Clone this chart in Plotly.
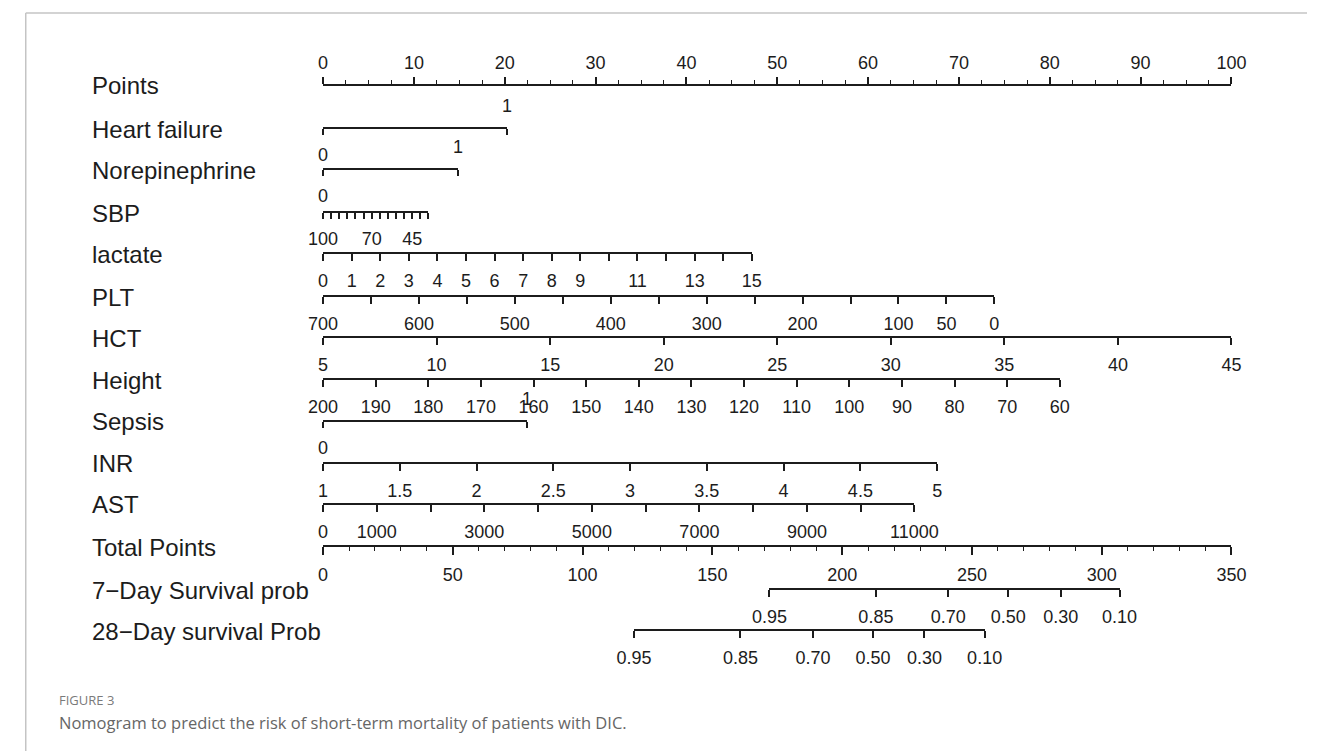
import plotly.graph_objects as go

# ---------------- data ----------------
row_labels = ["Points", "Heart failure", "Norepinephrine", "SBP", "lactate", "PLT", "HCT",
              "Height", "Sepsis", "INR", "AST", "Total Points",
              "7\u2212Day Survival prob", "28\u2212Day survival Prob"]

points_ticks = list(range(0, 101, 10))

heart_failure_values = [0, 1]
heart_failure_points = [0, 20.3]

norepinephrine_values = [0, 1]
norepinephrine_points = [0, 14.9]

sbp_range = [100, 35]
sbp_points = [0, 11.6]
sbp_ticks = list(range(100, 34, -5))
sbp_labels = ["100", "", "", "", "", "", "70", "", "", "", "", "45", "", ""]

lactate_range = [0, 15]
lactate_points = [0, 47.2]
lactate_ticks = list(range(0, 16))
lactate_labels = ["0", "1", "2", "3", "4", "5", "6", "7", "8", "9", "", "11", "", "13", "", "15"]

plt_range = [700, 0]
plt_points = [0, 73.9]
plt_ticks = list(range(700, -1, -50))
plt_labels = ["700", "", "600", "", "500", "", "400", "", "300", "", "200", "", "100", "50", "0"]

hct_range = [5, 45]
hct_points = [0, 100]
hct_ticks = list(range(5, 46, 5))

height_range = [200, 60]
height_points = [0, 81.1]
height_ticks = list(range(200, 59, -10))

sepsis_values = [0, 1]
sepsis_points = [0, 22.5]

inr_range = [1, 5]
inr_points = [0, 67.6]
inr_ticks = [1, 1.5, 2, 2.5, 3, 3.5, 4, 4.5, 5]
inr_labels = ["1", "1.5", "2", "2.5", "3", "3.5", "4", "4.5", "5"]

ast_range = [0, 11000]
ast_points = [0, 65.1]
ast_ticks = list(range(0, 11001, 1000))
ast_labels = ["0", "1000", "", "3000", "", "5000", "", "7000", "", "9000", "", "11000"]

total_range = [0, 350]
total_ticks = list(range(0, 351, 50))

surv7_total_points = [172.0, 213.0, 240.9, 264.0, 284.2, 306.9]
surv7_labels = ["0.95", "0.85", "0.70", "0.50", "0.30", "0.10"]

surv28_total_points = [119.8, 160.8, 188.8, 211.9, 231.7, 254.9]
surv28_labels = ["0.95", "0.85", "0.70", "0.50", "0.30", "0.10"]

# ---------------- layout constants ----------------
W, H = 1331, 751
PX0, PX1 = 315, 1253          # pixel of 0 and 100 points
row_y = [85, 128, 169, 212, 253, 296, 337, 379, 421, 463, 504, 546, 589, 630]
INK = "#1c1c1c"
FONT = "Liberation Sans, Arial, Helvetica, sans-serif"
TICKFONT = dict(family=FONT, size=18, color=INK)
LABEL_X = 74


def dom(p0, p1, scale=100.0):
    a = (PX0 + p0 * (PX1 - PX0) / scale) / W
    b = (PX0 + p1 * (PX1 - PX0) / scale) / W
    return [a, b]


def ypos(py):
    return 1 - py / H


fig = go.Figure()
layout_axes = {}
counter = [0]


def add_axis(rng, domain, ypx, tickvals, ticktext, side="bottom", ticks="outside",
             ticklen=7, minor=None, lw=1.8, standoff=4):
    counter[0] += 1
    k = counter[0]
    name = "xaxis" if k == 1 else f"xaxis{k}"
    ref = "x" if k == 1 else f"x{k}"
    ax = dict(domain=domain, range=rng, anchor="free", position=ypos(ypx), side=side,
              ticks=ticks, ticklen=ticklen, tickwidth=1.5, tickcolor=INK,
              showline=True, linecolor=INK, linewidth=lw,
              tickmode="array", tickvals=tickvals, ticktext=ticktext,
              showticklabels=True, tickfont=TICKFONT,
              showgrid=False, zeroline=False, fixedrange=True,
              ticklabelstandoff=standoff)
    if minor is not None:
        ax["minor"] = minor
    layout_axes[name] = ax
    fig.add_trace(go.Scatter(x=[rng[0]], y=[-10], xaxis=ref, yaxis="y", mode="markers",
                             marker=dict(opacity=0), hoverinfo="skip", showlegend=False))
    return ref


# Points (ticks point up towards the labels)
add_axis([0, 100], dom(0, 100), row_y[0], points_ticks, [str(v) for v in points_ticks],
         side="top", ticks="outside", ticklen=7, lw=2.2, standoff=1,
         minor=dict(dtick=2.5, tick0=0, ticks="outside", ticklen=4, tickwidth=1.3, tickcolor=INK))

# binary rows
binary = [(heart_failure_values, heart_failure_points, row_y[1]),
          (norepinephrine_values, norepinephrine_points, row_y[2]),
          (sepsis_values, sepsis_points, row_y[8])]
binary_refs = []
for vals, pts, yy in binary:
    ref = add_axis([vals[0], vals[1]], dom(*pts), yy, vals, [str(vals[0]), ""], ticklen=6)
    binary_refs.append((ref, vals[1], yy))

# SBP
add_axis(sbp_range, dom(*sbp_points), row_y[3], sbp_ticks, sbp_labels, ticklen=6)
# lactate
add_axis(lactate_range, dom(*lactate_points), row_y[4], lactate_ticks, lactate_labels)
# PLT
add_axis(plt_range, dom(*plt_points), row_y[5], plt_ticks, plt_labels)
# HCT
add_axis(hct_range, dom(*hct_points), row_y[6], hct_ticks, [str(v) for v in hct_ticks])
# Height
add_axis(height_range, dom(*height_points), row_y[7], height_ticks, [str(v) for v in height_ticks])
# INR
add_axis(inr_range, dom(*inr_points), row_y[9], inr_ticks, inr_labels)
# AST
add_axis(ast_range, dom(*ast_points), row_y[10], ast_ticks, ast_labels)
# Total points
add_axis(total_range, dom(0, 100), row_y[11], total_ticks, [str(v) for v in total_ticks],
         ticklen=8, lw=2.2,
         minor=dict(dtick=10, tick0=0, ticks="outside", ticklen=4, tickwidth=1.3, tickcolor=INK))
# survival rows
add_axis([surv7_total_points[0], surv7_total_points[-1]],
         dom(surv7_total_points[0], surv7_total_points[-1], 350.0), row_y[12],
         surv7_total_points, surv7_labels)
add_axis([surv28_total_points[0], surv28_total_points[-1]],
         dom(surv28_total_points[0], surv28_total_points[-1], 350.0), row_y[13],
         surv28_total_points, surv28_labels)

annotations = []
# "1" labels above the binary lines
for ref, v1, yy in binary_refs:
    annotations.append(dict(x=v1, xref=ref, y=ypos(yy - 22), yref="paper", text="1",
                            showarrow=False, xanchor="center", yanchor="middle",
                            font=TICKFONT))

# row labels
for lab, yy in zip(row_labels, row_y):
    annotations.append(dict(x=LABEL_X / W, xref="paper", y=ypos(yy + 1), yref="paper", text=lab,
                            showarrow=False, xanchor="left", yanchor="middle",
                            font=dict(family=FONT, size=24, color=INK)))

# caption
annotations.append(dict(x=40 / W, xref="paper", y=ypos(700), yref="paper", text="FIGURE 3",
                        showarrow=False, xanchor="left", yanchor="middle",
                        font=dict(family="Open Sans, Lato, sans-serif", size=13, color="#7a7a7a")))
annotations.append(dict(x=40 / W, xref="paper", y=ypos(722), yref="paper",
                        text="Nomogram to predict the risk of short-term mortality of patients with DIC.",
                        showarrow=False, xanchor="left", yanchor="middle",
                        font=dict(family="Open Sans, Lato, sans-serif", size=16.5, color="#666666")))

shapes = [
    dict(type="line", xref="paper", yref="paper", x0=8 / W, x1=1, y0=ypos(13), y1=ypos(13),
         line=dict(color="#c4c4c4", width=1.5)),
    dict(type="line", xref="paper", yref="paper", x0=8 / W, x1=8 / W, y0=ypos(13), y1=0,
         line=dict(color="#c4c4c4", width=1.5)),
]

fig.update_layout(
    width=W, height=H, autosize=False,
    margin=dict(l=0, r=0, t=0, b=0),
    paper_bgcolor="white", plot_bgcolor="rgba(0,0,0,0)",
    showlegend=False,
    yaxis=dict(range=[0, 1], visible=False, fixedrange=True, domain=[0, 1]),
    annotations=annotations, shapes=shapes,
    **layout_axes,
)

fig.write_html("out.html", config={"displayModeBar": False},
               post_script="document.body.style.margin='0px';document.body.style.overflow='hidden';")
